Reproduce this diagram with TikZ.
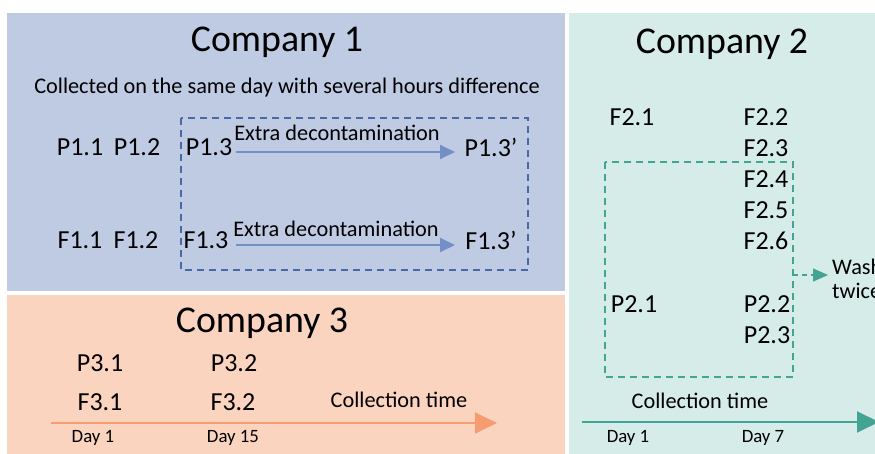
\documentclass[tikz,border=0pt]{standalone}
\usepackage{fontspec}
\setmainfont{Carlito}
\usetikzlibrary{arrows.meta}
\definecolor{panelblue}{RGB}{191,203,227}
\definecolor{panelorange}{RGB}{251,212,192}
\definecolor{panelteal}{RGB}{214,236,232}
\definecolor{arrowblue}{RGB}{114,143,198}
\definecolor{boxblue}{RGB}{72,104,168}
\definecolor{arroworange}{RGB}{247,156,112}
\definecolor{arrowteal}{RGB}{68,164,148}
\tikzset{
  title/.style={font=\fontsize{37.8}{40}\selectfont, inner sep=0pt},
  lbl/.style={font=\fontsize{26}{30}\selectfont, inner sep=0pt},
  note/.style={font=\fontsize{22.3}{26}\selectfont, inner sep=0pt},
  day/.style={font=\fontsize{18.8}{22}\selectfont, inner sep=0pt},
  treat/.style={draw=arrowblue, line width=2pt, -{Triangle[length=15pt,width=14pt]}},
  groupbox/.style={line width=1.4pt, dash pattern=on 7pt off 5pt},
}
\begin{document}
\begin{tikzpicture}[x=1pt,y=-1pt]
\useasboundingbox (0,0) rectangle (875,454);
\clip (0,0) rectangle (875,454);
\fill[white] (0,0) rectangle (875,454);

% panels
\fill[panelblue] (7,13) rectangle (565,291);
\fill[panelorange] (7,295) rectangle (565,454);
\fill[panelteal] (569,13) rectangle (875,454);

% ---------- Company 1 ----------
\node[title] (t1) at (277,42) {Company 1};
\node[note] (c1note) at (287,88) {Collected on the same day with several hours difference};
\node[lbl] (p11) at (80,147) {P1.1};
\node[lbl] (p12) at (137,147) {P1.2};
\node[lbl] (p13) at (209,147) {P1.3};
\node[lbl] (p13b) at (491,147) {P1.3’};
\node[lbl] (f11) at (80,240) {F1.1};
\node[lbl] (f12) at (136,240) {F1.2};
\node[lbl] (f13) at (206,240) {F1.3};
\node[lbl] (f13b) at (491,240) {F1.3’};
\coordinate (pa) at (236,152);
\coordinate (pb) at (455,152);
\coordinate (fa) at (236,245);
\coordinate (fb) at (455,245);
\draw[treat] (pa) -- (pb);
\draw[treat] (fa) -- (fb);
\node[note] (pd) at (337,133) {Extra decontamination};
\node[note] (fd) at (336,229) {Extra decontamination};
\coordinate (b1a) at (181,118);
\coordinate (b1b) at (528,270);
\draw[groupbox, draw=boxblue] (b1a) rectangle (b1b);

% ---------- Company 3 ----------
\node[title] (t3) at (262,323) {Company 3};
\node[lbl] (p31) at (100,363) {P3.1};
\node[lbl] (p32) at (234,363) {P3.2};
\node[lbl] (f31) at (100,402) {F3.1};
\node[lbl] (f32) at (233,402) {F3.2};
\node[note] (ct3) at (399,400) {Collection time};
\coordinate (t3a) at (51,423);
\coordinate (t3b) at (497,423);
\draw[draw=arroworange, line width=2pt, -{Triangle[length=22pt,width=21pt]}] (t3a) -- (t3b);
\node[day] (d31) at (93,438) {Day 1};
\node[day] (d315) at (233,438) {Day 15};

% ---------- Company 2 ----------
\node[title] (t2) at (722,44) {Company 2};
\node[lbl] (f21) at (632,117) {F2.1};
\node[lbl] (f22) at (766,117) {F2.2};
\node[lbl] (f23) at (766,148) {F2.3};
\node[lbl] (f24) at (766,179) {F2.4};
\node[lbl] (f25) at (766,210) {F2.5};
\node[lbl] (f26) at (766,241) {F2.6};
\node[lbl] (p21) at (634,304) {P2.1};
\node[lbl] (p22) at (767,304) {P2.2};
\node[lbl] (p23) at (767,335) {P2.3};
\coordinate (b2a) at (605,162);
\coordinate (b2b) at (793,377);
\draw[groupbox, draw=arrowteal] (b2a) rectangle (b2b);
\coordinate (wa) at (793,275);
\coordinate (wb) at (828,275);
\draw[draw=arrowteal, line width=1.4pt, dash pattern=on 5pt off 4pt,
      -{Triangle[length=15pt,width=13pt]}] (wa) -- (wb);
\node[note, anchor=west, align=left, font=\fontsize{22.3}{24}\selectfont] (wash) at (832,279) {Wash\\twice};
\node[note] (ct2) at (700,401) {Collection time};
\coordinate (t2a) at (582,422);
\coordinate (t2b) at (879,422);
\draw[draw=arrowteal, line width=2pt, -{Triangle[length=22pt,width=21pt]}] (t2a) -- (t2b);
\node[day] (d21) at (628,438) {Day 1};
\node[day] (d27) at (763,438) {Day 7};
\end{tikzpicture}
\end{document}
